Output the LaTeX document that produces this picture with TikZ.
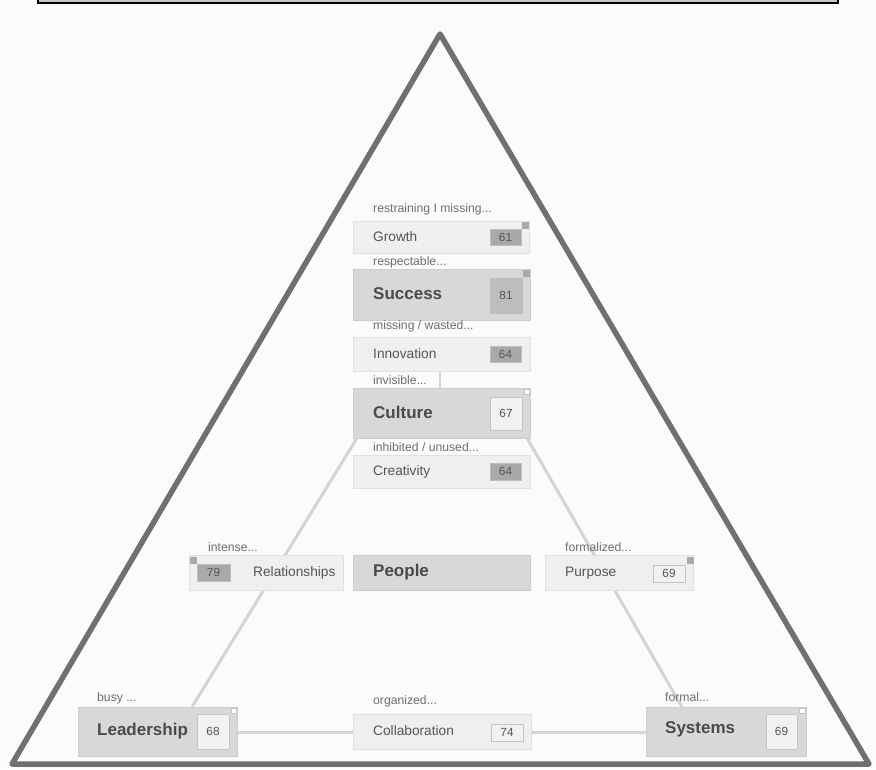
\documentclass[tikz,border=0pt]{standalone}
\usepackage{fontspec}
\setmainfont{Liberation Sans}
\usetikzlibrary{calc}
\definecolor{bgc}{HTML}{FBFBFB}
\definecolor{tri}{HTML}{707070}
\definecolor{conn}{HTML}{D4D4D4}
\definecolor{lightfill}{HTML}{EFEFEF}
\definecolor{lightedge}{HTML}{E0E0E0}
\definecolor{darkfill}{HTML}{D8D8D8}
\definecolor{darkedge}{HTML}{CDCDCD}
\definecolor{numdk}{HTML}{A9A9A9}
\definecolor{numdker}{HTML}{BDBDBD}
\definecolor{numlt}{HTML}{F1F1F1}
\definecolor{numedge}{HTML}{C4C4C4}
\definecolor{txtc}{HTML}{555555}
\definecolor{btxtc}{HTML}{4A4A4A}
\definecolor{lblc}{HTML}{6E6E6E}
\tikzset{
  panel/.style={inner sep=0pt, outer sep=0pt, line width=0.8pt},
  lightbox/.style={panel, fill=lightfill, draw=lightedge},
  darkbox/.style={panel, fill=darkfill, draw=darkedge},
  numdark/.style={panel, fill=numdk, draw=numdker},
  numdarker/.style={panel, fill=numdker, draw=numdker},
  numlight/.style={panel, fill=numlt, draw=numedge},
  cornerdark/.style={panel, fill=numdk, draw=numdk},
  cornerlight/.style={panel, fill=white, draw=numedge},
  txt/.style={anchor=west, inner sep=0pt, text=txtc, font=\fontsize{13.7}{15}\selectfont},
  btxt/.style={anchor=west, inner sep=0pt, text=btxtc, font=\fontsize{17}{18}\selectfont\bfseries},
  lbl/.style={anchor=west, inner sep=0pt, text=lblc, font=\fontsize{12.2}{13}\selectfont},
  num/.style={inner sep=0pt, text=txtc, font=\fontsize{11.8}{13}\selectfont},
  link/.style={draw=conn, line width=3pt},
}
\newcommand{\boxat}[4]{% name, style, top-left, bottom-right
  \path[#2] (#3) rectangle (#4);
  \coordinate (#1-nw) at (#3);
  \coordinate (#1-se) at (#4);
}
\begin{document}
\begin{tikzpicture}[x=1pt,y=-1pt]
  \useasboundingbox (0,0) rectangle (876,769);
  \fill[bgc] (0,0) rectangle (876,769);

  % header strip at the top edge
  \path[fill=gray!45, draw=black, line width=1.2pt] (38,-10) rectangle (838,3);

  % outer triangle
  \coordinate (apex) at (440,34);
  \coordinate (bl) at (12,764);
  \coordinate (br) at (869,764);
  \draw[tri, line width=5.5pt, line join=round] (apex) -- (bl) -- (br) -- cycle;

  % ---------- connectors (drawn first, boxes sit on top) ----------
  \coordinate (cultureSW) at (357,438);
  \coordinate (cultureSE) at (527,438);
  \coordinate (leaderTop) at (192,707);
  \coordinate (systemsTop) at (682,707);
  \draw[link] (cultureSW) -- (leaderTop);
  \draw[link] (cultureSE) -- (systemsTop);
  \coordinate (innovBot) at (440,371);
  \coordinate (cultTop) at (440,388);
  \draw[draw=conn, line width=2.5pt] (innovBot) -- (cultTop);
  \coordinate (leadE) at (237,732);
  \coordinate (collW) at (353,732);
  \coordinate (collE) at (531,732);
  \coordinate (sysW) at (646,732);
  \draw[link] (leadE) -- (collW);
  \draw[link] (collE) -- (sysW);

  % ---------- central column ----------
  \node[lbl] (growthL) at (373,209) {restraining I missing...};
  \boxat{growth}{lightbox}{353,221}{529,253}
  \node[txt] (growthT) at (373,237) {Growth};
  \path[numdark] (490,229) rectangle (521,245);
  \node[num] (growthN) at (505.5,237) {61};
  \path[cornerdark] (522,222) rectangle (528,228);

  \node[lbl] (successL) at (373,262) {respectable...};
  \boxat{success}{darkbox}{353,269}{530,320}
  \node[btxt] (successT) at (373,294) {Success};
  \path[numdarker] (490,278) rectangle (522,313);
  \node[num] (successN) at (506,295) {81};
  \path[cornerdark] (523,270) rectangle (529,276);

  \node[lbl] (innovL) at (373,326) {missing / wasted...};
  \boxat{innov}{lightbox}{353,337}{530,371}
  \node[txt] (innovT) at (373,354) {Innovation};
  \path[numdark] (490,346) rectangle (521,362);
  \node[num] (innovN) at (505.5,354) {64};

  \node[lbl] (cultureL) at (373,380) {invisible...};
  \boxat{culture}{darkbox}{353,388}{530,438}
  \node[btxt] (cultureT) at (373,412) {Culture};
  \path[numlight] (490,397) rectangle (522,430);
  \node[num] (cultureN) at (506,413) {67};
  \path[cornerlight] (524,389) rectangle (529,394);

  \node[lbl] (creatL) at (373,447) {inhibited / unused...};
  \boxat{creat}{lightbox}{353,455}{530,488}
  \node[txt] (creatT) at (373,472) {Creativity};
  \path[numdark] (490,463) rectangle (521,480);
  \node[num] (creatN) at (505.5,471.5) {64};

  % ---------- middle row ----------
  \node[lbl] (relL) at (208,547) {intense...};
  \boxat{rel}{lightbox}{189,555}{343,590}
  \path[numdark] (197,564) rectangle (230,581);
  \node[num] (relN) at (213.5,572.5) {79};
  \path[cornerdark] (190,557) rectangle (196,563);
  \node[txt] (relT) at (253,573) {Relationships};

  \boxat{people}{darkbox}{353,555}{530,590}
  \node[btxt] (peopleT) at (373,572) {People};

  \node[lbl] (purpL) at (565,547) {formalized...};
  \boxat{purp}{lightbox}{545,555}{693,590}
  \node[txt] (purpT) at (565,573) {Purpose};
  \path[numlight] (653,565) rectangle (685,582);
  \node[num] (purpN) at (669,573.5) {69};
  \path[cornerdark] (687,557) rectangle (693,563);

  % ---------- bottom row ----------
  \node[lbl] (leadL) at (97,698) {busy ...};
  \boxat{lead}{darkbox}{78,707}{237,756}
  \node[btxt] (leadT) at (97,731) {Leadership};
  \path[numlight] (197,714) rectangle (229,749);
  \node[num] (leadN) at (213,731.5) {68};
  \path[cornerlight] (231,708) rectangle (236,713);

  \node[lbl] (collL) at (373,701) {organized...};
  \boxat{coll}{lightbox}{353,714}{531,749}
  \node[txt] (collT) at (373,731) {Collaboration};
  \path[numlight] (491,724) rectangle (523,741);
  \node[num] (collN) at (507,732.5) {74};

  \node[lbl] (sysL) at (665,697) {formal...};
  \boxat{sys}{darkbox}{646,707}{806,756}
  \node[btxt] (sysT) at (665,729) {Systems};
  \path[numlight] (766,714) rectangle (797,749);
  \node[num] (sysN) at (781.5,731.5) {69};
  \path[cornerlight] (799,708) rectangle (805,713);
\end{tikzpicture}
\end{document}
